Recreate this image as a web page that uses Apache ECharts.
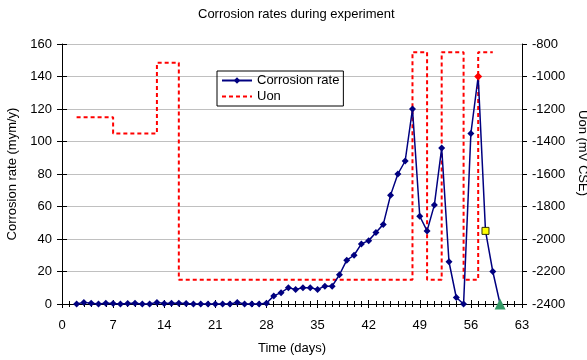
<!DOCTYPE html>
<html>
<head>
<meta charset="utf-8">
<script src="https://cdn.jsdelivr.net/npm/echarts@6/dist/echarts.min.js"></script>
<style>html,body{margin:0;padding:0;background:#fff}#c{width:587px;height:360px}</style>
</head>
<body>
<div id="c"></div>
<script>
const titleText = 'Corrosion rates during experiment';
const xName = 'Time (days)';
const yLeftName = 'Corrosion rate (mym/y)';
const yRightName = 'Uon (mV CSE)';
const seriesNames = ['Corrosion rate', 'Uon'];

const days = [2,3,4,5,6,7,8,9,10,11,12,13,14,15,16,17,18,19,20,21,22,23,24,25,26,27,28,29,30,31,32,33,34,35,36,37,38,39,40,41,42,43,44,45,46,47,48,49,50,51,52,53,54,55,56,57,58,59,60];
const rates = [0,1,0.5,0,0.5,0.3,0,0.3,0.5,0,0,1,0.3,0.5,0.5,0.3,0,0,0,0,0,0,1,0,0,0,0.5,5,7,10,9,10,10,9,11,11,18,27,30,37,39,44,49,67,80,88,120,54,45,61,96,26,4,0,105,140,45,20,0];

const uonDays = [2,7,7,13,13,16,16,48,48,50,50,52,52,55,55,57,57,59];
const uonValues = [-1250,-1250,-1350,-1350,-915,-915,-2250,-2250,-850,-850,-2250,-2250,-850,-850,-2250,-2250,-850,-850];

const xTicks = {min:0, max:63, interval:7};
const yLeftTicks = {min:0, max:160, interval:20};
const yRightTicks = {min:-2400, max:-800, interval:200};

const specialPoints = {
  57: {symbol:'diamond', symbolSize:8, itemStyle:{color:'#FF0000'}},
  58: {symbol:'rect', symbolSize:7, itemStyle:{color:'#FFFF00', borderColor:'#333300', borderWidth:1}},
  60: {symbol:'triangle', symbolSize:11, itemStyle:{color:'#339966'}}
};

const rateData = days.map((d,i) => {
  const base = {value:[d, rates[i]]};
  if (specialPoints[d]) Object.assign(base, specialPoints[d]);
  return base;
});
const uonData = uonDays.map((d,i) => [d, uonValues[i]]);

const font = 'Liberation Sans, Arial, sans-serif';
const fs = 13;
const chart = echarts.init(document.getElementById('c'), null, {renderer:'canvas'});
const grid = {left:62, right:65, top:44, bottom:56, containLabel:false, outerBoundsMode:'none'};

chart.setOption({
  animation:false,
  backgroundColor:'#fff',
  textStyle:{fontFamily:font, color:'#000'},
  title:{text:titleText, left:198, top:8, padding:0, textStyle:{fontFamily:font, fontSize:13, fontWeight:'normal', color:'#000'}},
  legend:{
    left:217, top:71, orient:'vertical', itemGap:3, itemWidth:30, itemHeight:8,
    borderColor:'#000', borderWidth:1, padding:[3,4,3,4],
    textStyle:{fontFamily:font, fontSize:fs, color:'#000'},
    data:[{name:seriesNames[0]}, {name:seriesNames[1], itemStyle:{opacity:0}}]
  },
  grid:grid,
  xAxis:[{
    type:'value', min:xTicks.min, max:xTicks.max, interval:xTicks.interval,
    name:xName, nameLocation:'middle', nameGap:38,
    nameTextStyle:{fontFamily:font, fontSize:fs, color:'#000'},
    axisLine:{show:true, onZero:false, lineStyle:{color:'#000', width:1}},
    axisTick:{show:true, length:4, lineStyle:{color:'#000'}},
    minorTick:{show:true, splitNumber:7, length:3, lineStyle:{color:'#000'}},
    axisLabel:{fontFamily:font, fontSize:fs, color:'#000', margin:15},
    splitLine:{show:false}
  },{
    type:'value', min:xTicks.min, max:xTicks.max, interval:xTicks.interval, position:'bottom',
    axisLine:{show:false, onZero:false},
    axisTick:{show:true, inside:true, length:4, lineStyle:{color:'#000'}},
    minorTick:{show:true, splitNumber:7, length:3, lineStyle:{color:'#000'}},
    axisLabel:{show:false}, splitLine:{show:false}
  }],
  yAxis:[{
    type:'value', min:yLeftTicks.min, max:yLeftTicks.max, interval:yLeftTicks.interval, position:'left',
    name:yLeftName, nameLocation:'middle', nameGap:40, nameRotate:90,
    nameTextStyle:{fontFamily:font, fontSize:fs, color:'#000'},
    axisLine:{show:true, onZero:false, lineStyle:{color:'#000'}},
    axisTick:{show:true, length:5, lineStyle:{color:'#000'}},
    axisLabel:{fontFamily:font, fontSize:fs, color:'#000', margin:10},
    splitLine:{show:true, lineStyle:{color:'#c0c0c0', width:1}}
  },{
    type:'value', min:yRightTicks.min, max:yRightTicks.max, interval:yRightTicks.interval, position:'right',
    name:yRightName, nameLocation:'middle', nameGap:47, nameRotate:-90,
    nameTextStyle:{fontFamily:font, fontSize:fs, color:'#000', padding:[0,42,0,0]},
    axisLine:{show:true, onZero:false, lineStyle:{color:'#000'}},
    axisTick:{show:true, length:5, lineStyle:{color:'#000'}},
    axisLabel:{fontFamily:font, fontSize:fs, color:'#000', margin:10, formatter:v => String(v)},
    splitLine:{show:false}
  },{
    type:'value', min:yLeftTicks.min, max:yLeftTicks.max, interval:yLeftTicks.interval, position:'left',
    axisLine:{show:false}, axisTick:{show:true, inside:true, length:5, lineStyle:{color:'#000'}},
    axisLabel:{show:false}, splitLine:{show:false}
  },{
    type:'value', min:yRightTicks.min, max:yRightTicks.max, interval:yRightTicks.interval, position:'right',
    axisLine:{show:false}, axisTick:{show:true, inside:true, length:5, lineStyle:{color:'#000'}},
    axisLabel:{show:false}, splitLine:{show:false}
  }],
  series:[{
    name:seriesNames[1], type:'line', xAxisIndex:0, yAxisIndex:1, data:uonData,
    symbol:'none', z:2,
    lineStyle:{color:'#FF0000', width:2, type:[4,3]},
    itemStyle:{color:'#FF0000'}
  },{
    name:seriesNames[0], type:'line', xAxisIndex:0, yAxisIndex:0, data:rateData,
    symbol:'diamond', symbolSize:7, showAllSymbol:true, z:3,
    lineStyle:{color:'#000080', width:1.5},
    itemStyle:{color:'#000080'}
  }]
});
</script>
</body>
</html>
